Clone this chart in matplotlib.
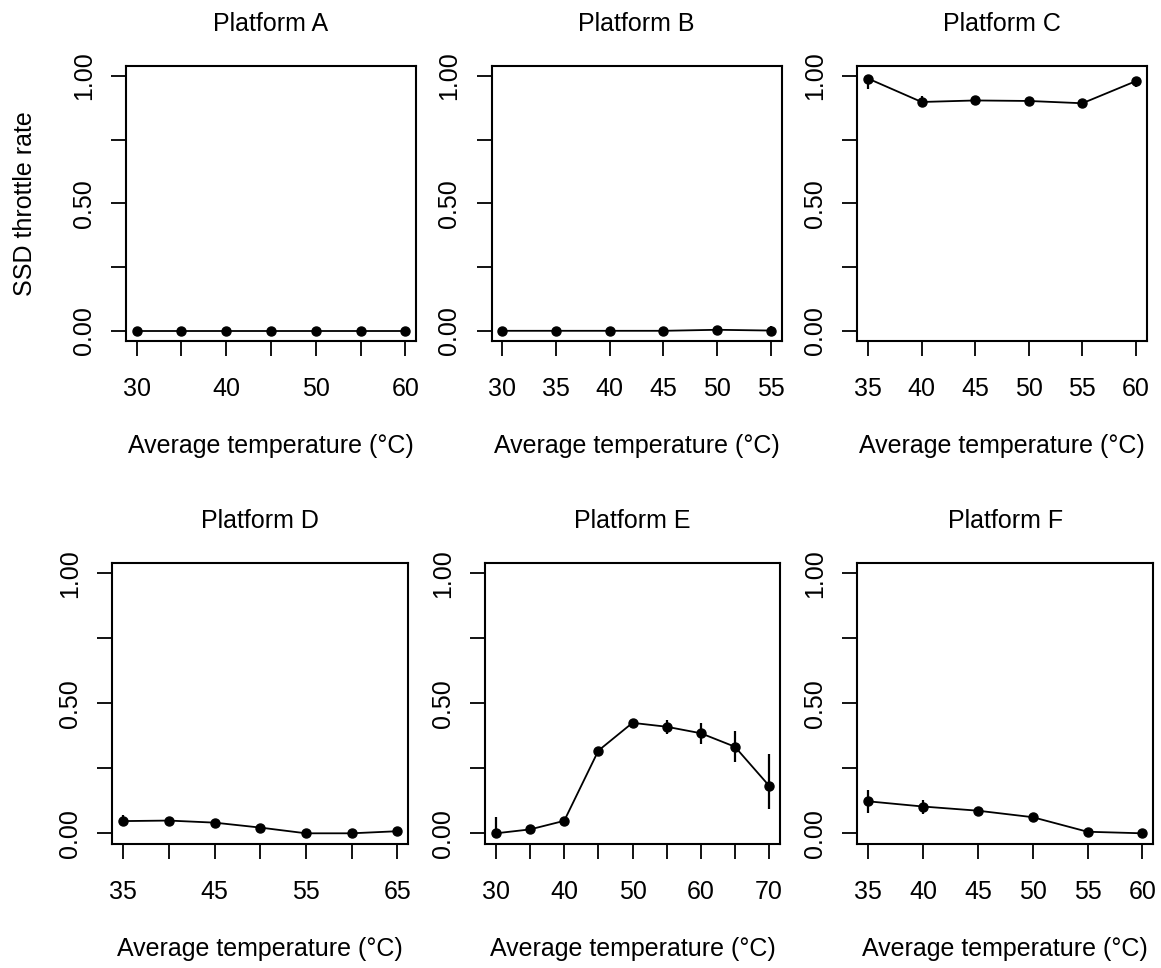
import numpy as np
import matplotlib
matplotlib.use('Agg')
import matplotlib.pyplot as plt

plt.rcParams['font.family'] = ['Liberation Sans', 'DejaVu Sans']
plt.rcParams['font.size'] = 18

titles = ['Platform A', 'Platform B', 'Platform C', 'Platform D', 'Platform E', 'Platform F']

# temperatures per platform
x_a = [30, 35, 40, 45, 50, 55, 60]
x_b = [30, 35, 40, 45, 50, 55]
x_c = [35, 40, 45, 50, 55, 60]
x_d = [35, 40, 45, 50, 55, 60, 65]
x_e = [30, 35, 40, 45, 50, 55, 60, 65, 70]
x_f = [35, 40, 45, 50, 55, 60]

# throttle rates
y_a = [0, 0, 0, 0, 0, 0, 0]
y_b = [0, 0, 0, 0, 0.004, 0.001]
y_c = [0.99, 0.898, 0.904, 0.902, 0.893, 0.98]
y_d = [0.047, 0.049, 0.041, 0.022, 0.0, 0.0, 0.008]
y_e = [0.0, 0.015, 0.048, 0.318, 0.425, 0.41, 0.385, 0.333, 0.183]
y_f = [0.123, 0.103, 0.087, 0.062, 0.006, 0.0]

# error bars (below, above)
lo_a = [0, 0, 0, 0, 0, 0, 0]
hi_a = [0, 0, 0, 0, 0, 0, 0]
lo_b = [0, 0, 0, 0, 0.003, 0.001]
hi_b = [0, 0, 0, 0, 0.004, 0.016]
lo_c = [0.04, 0.01, 0.005, 0.005, 0.005, 0.025]
hi_c = [0.01, 0.022, 0.005, 0.005, 0.005, 0.01]
lo_d = [0.012, 0.008, 0.008, 0.005, 0.002, 0.002, 0.008]
hi_d = [0.022, 0.008, 0.008, 0.005, 0.002, 0.002, 0.014]
lo_e = [0.0, 0.005, 0.005, 0.01, 0.015, 0.027, 0.04, 0.06, 0.09]
hi_e = [0.063, 0.005, 0.005, 0.01, 0.015, 0.027, 0.04, 0.06, 0.122]
lo_f = [0.045, 0.027, 0.012, 0.005, 0.004, 0.004]
hi_f = [0.045, 0.027, 0.012, 0.005, 0.004, 0.008]

# which x tick labels are printed
lab_a = [30, 40, 50, 60]
lab_b = x_b
lab_c = x_c
lab_d = [35, 45, 55, 65]
lab_e = [30, 40, 50, 60, 70]
lab_f = x_f

xs = [x_a, x_b, x_c, x_d, x_e, x_f]
ys = [y_a, y_b, y_c, y_d, y_e, y_f]
los = [lo_a, lo_b, lo_c, lo_d, lo_e, lo_f]
his = [hi_a, hi_b, hi_c, hi_d, hi_e, hi_f]
labs = [lab_a, lab_b, lab_c, lab_d, lab_e, lab_f]

W, H = 1161, 968
fig = plt.figure(figsize=(W / 100, H / 100), dpi=100)

# box positions in pixels: left, right, top, bottom
boxes = [(126, 416, 65.8, 341), (491.6, 781.6, 65.8, 341), (857.3, 1146.7, 65.8, 341),
         (112.3, 408.3, 563, 843.7), (485, 780, 563, 843.7), (857.3, 1153.3, 563, 843.7)]

for i in range(6):
    l, r, t, b = boxes[i]
    ax = fig.add_axes([l / W, 1 - b / H, (r - l) / W, (b - t) / H])
    x = np.array(xs[i])
    y = np.array(ys[i])
    ax.errorbar(x, y, yerr=[los[i], his[i]], fmt='none', ecolor='black', elinewidth=1.6, capsize=0)
    ax.plot(x, y, color='black', lw=1.3, marker='o', markersize=6.5)
    span = x.max() - x.min()
    ax.set_xlim(x.min() - 0.04 * span, x.max() + 0.04 * span)
    ax.set_ylim(-0.04, 1.04)
    ax.set_xticks(x)
    ax.set_xticklabels([str(v) if v in labs[i] else '' for v in x])
    ax.set_yticks([0, 0.25, 0.5, 0.75, 1.0])
    ax.set_yticklabels(['0.00', '', '0.50', '', '1.00'], rotation=90, va='center')
    ax.tick_params(length=10.8, width=1.3, direction='out')
    ax.tick_params(axis='x', pad=15)
    ax.tick_params(axis='y', pad=11)
    for s in ax.spines.values():
        s.set_linewidth(1.5)
    ax.set_title(titles[i], pad=25, fontsize=18)
    ax.set_xlabel('Average temperature (°C)', labelpad=24)
    if i == 0:
        ax.set_ylabel('SSD throttle rate', labelpad=25)

fig.savefig('out.png', dpi=100)
